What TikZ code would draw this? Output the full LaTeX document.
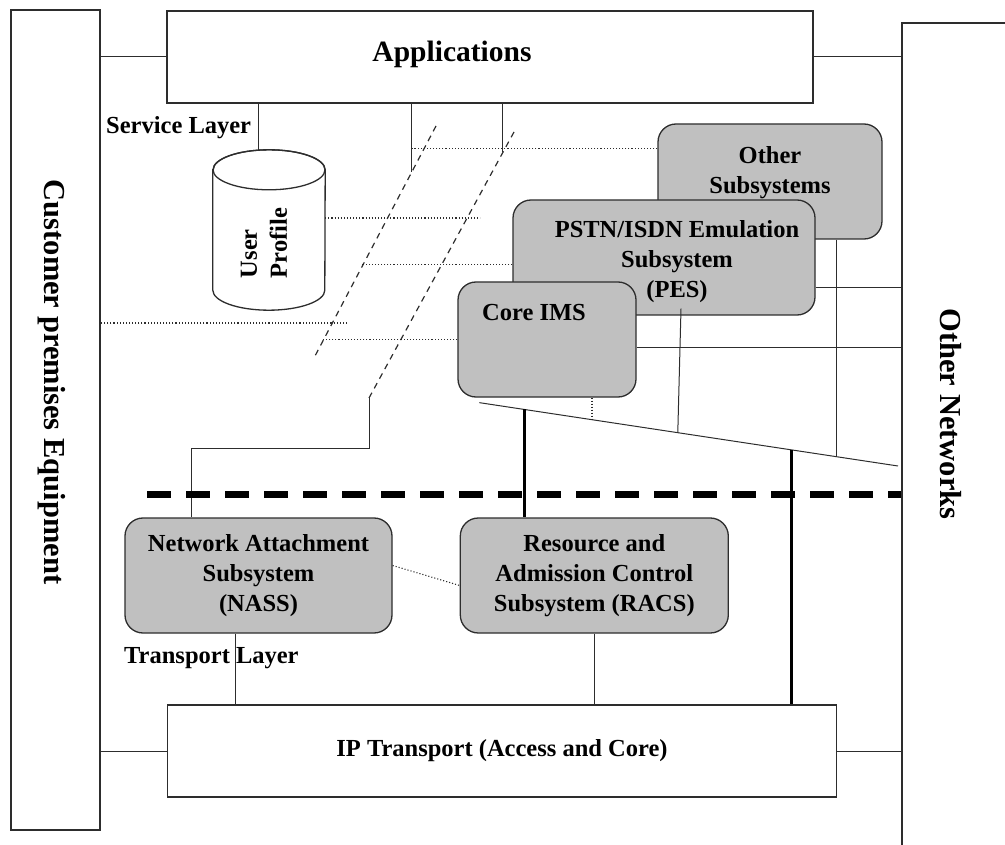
\documentclass[tikz,border=0pt]{standalone}
\usepackage{fontspec}
\setmainfont{Liberation Serif}
\usetikzlibrary{positioning, calc}
\definecolor{boxgray}{RGB}{192,192,192}
\definecolor{linegray}{RGB}{45,45,45}
\newcommand{\bodyfont}{\fontsize{24.5}{30}\selectfont\bfseries}
\newcommand{\sidefont}{\fontsize{30.5}{36}\selectfont\bfseries}
\newcommand{\appfont}{\fontsize{29.5}{36}\selectfont\bfseries}

\begin{document}
\begin{tikzpicture}[x=1pt, y=-1pt, font=\bodyfont,
  plainbox/.style={draw=linegray, line width=1.3pt, fill=white, inner sep=0pt, align=center},
  subbox/.style={draw=linegray, line width=1.3pt, fill=boxgray, rounded corners=18pt, inner sep=0pt, align=center},
  layerlabel/.style={anchor=west, inner sep=0pt},
  wire/.style={draw=linegray, line width=1pt},
  heavywire/.style={draw=black, line width=2.6pt},
  dotwire/.style={draw=linegray, line width=1.1pt, dash pattern=on 1.1pt off 2pt},
  dashwire/.style={draw=linegray, line width=1.2pt, dash pattern=on 6pt off 5pt},
  layerline/.style={draw=black, line width=7pt, dash pattern=on 24pt off 15pt}]

  \useasboundingbox (0,0) rectangle (1005,845);

  \node[plainbox, minimum width=89pt, minimum height=820pt] (cpe) at (55.5,420) {};
  \node[rotate=-90, font=\sidefont] (cpetxt) at (52,382) {Customer premises Equipment};
  \node[plainbox, minimum width=120pt, minimum height=840pt] (onet) at (962,443) {};
  \node[rotate=-90, font=\sidefont] (onettxt) at (951,414) {Other Networks};

  \node[plainbox, minimum width=646pt, minimum height=92pt,
    label={[font=\appfont, xshift=-38pt, yshift=3pt]center:Applications}] (apps) at (490,57) {};
  \node[plainbox, minimum width=669pt, minimum height=92pt] (ip) at (502,751) {IP Transport (Access and Core)};

  \node[layerlabel] (svclayer) at (106,128) {Service Layer};
  \node[layerlabel] (trlayer) at (124,658) {Transport Layer};

  \node[minimum width=112pt, minimum height=160pt, inner sep=0pt] (upro) at (269,230) {};
  \draw[wire, line width=1.3pt, fill=white] ([yshift=-20pt]upro.north west) -- ([yshift=20pt]upro.south west)
    arc[start angle=180, end angle=360, x radius=56pt, y radius=20pt]
    -- ([yshift=-20pt]upro.north east)
    arc[start angle=0, end angle=180, x radius=56pt, y radius=20pt] -- cycle;
  \draw[wire, line width=1.3pt] ([yshift=-20pt]upro.north) ellipse[x radius=56pt, y radius=20pt];
  \node[rotate=90, align=left] (uprotxt) at (264,243) {User\\Profile};

  \node[subbox, minimum width=224pt, minimum height=115pt,
    label={[align=center, yshift=9pt]center:Other\\Subsystems}] (oth) at (770,181.5) {};
  \node[subbox, minimum width=302pt, minimum height=115pt,
    label={[align=center, xshift=13pt, yshift=-4pt]center:PSTN/ISDN Emulation\\Subsystem\\(PES)}] (pes) at (664,257.5) {};
  \node[subbox, minimum width=178pt, minimum height=115pt,
    label={[xshift=-13pt, yshift=27pt]center:Core IMS}] (ims) at (547,339.5) {};

  \node[subbox, minimum width=267pt, minimum height=115pt] (nass) at (258.5,575.5) {Network Attachment\\Subsystem\\(NASS)};
  \node[subbox, minimum width=268pt, minimum height=115pt, right=67pt of nass] (racs) {Resource and\\Admission Control\\Subsystem (RACS)};

  \draw[wire] (apps.west) -- (apps.west -| cpe.east);
  \draw[wire] (apps.east) -- (apps.east -| onet.west);
  \draw[wire] (ip.west) -- (ip.west -| cpe.east);
  \draw[wire] (ip.east) -- (ip.east -| onet.west);

  \coordinate (uprotop) at ([xshift=-11pt]upro.north);
  \draw[wire] (uprotop |- apps.south) -- (uprotop);

  \coordinate (d1a) at (436,126);
  \coordinate (d1b) at (315,356);
  \coordinate (d2a) at (514,132);
  \coordinate (d2b) at (369,398);
  \draw[dashwire] (d1a) -- (d1b);
  \draw[dashwire] (d2a) -- (d2b);
  \coordinate (tap1) at ($(d1a)!0.2!(d1b)$);
  \coordinate (tap2) at ($(d2a)!0.076!(d2b)$);
  \draw[wire] (tap1 |- apps.south) -- (tap1);
  \draw[wire] (tap2 |- apps.south) -- (tap2);
  \coordinate (nasstop) at ([xshift=-67.5pt]nass.north);
  \draw[wire] (d2b) -- ++(0,50) -| (nasstop);

  \draw[dotwire] ([yshift=-25pt]oth.north west) -- ++(-245,0);
  \draw[dotwire] ([yshift=12pt]upro.east) -- ++(155,0);
  \draw[dotwire] ([yshift=-7pt]pes.west) -- ++(-151,0);
  \coordinate (cpedot) at (347,323);
  \draw[dotwire] (cpedot) -- (cpedot -| cpe.east);
  \draw[dotwire] (ims.west) -- ++(-136,0);

  \coordinate (s1) at ([xshift=22pt, yshift=-5pt]ims.south west);
  \coordinate (s2) at (898,466);
  \draw[wire] (s1) -- (s2);
  \coordinate (q0) at ($(s1)!0.108!(s2)$);
  \coordinate (q1) at ($(s1)!0.268!(s2)$);
  \coordinate (q2) at ($(s1)!0.474!(s2)$);
  \coordinate (q3) at ($(s1)!0.854!(s2)$);
  \coordinate (q4) at ($(s1)!0.746!(s2)$);
  \draw[heavywire] (q0) -- (q0 |- racs.north);
  \draw[dotwire, line width=2pt, dash pattern=on 1.5pt off 1.5pt] (q1 |- ims.south) -- (q1);
  \coordinate (pestap) at ([xshift=17pt, yshift=7pt]pes.south);
  \draw[wire] (pestap) -- (q2);
  \draw[wire] (q3 |- oth.south) -- (q3);
  \draw[heavywire] (q4) -- (q4 |- ip.north);
  \coordinate (pesright) at ([yshift=28pt]pes.south east);
  \draw[wire] (pesright) -- (pesright -| onet.west);
  \coordinate (imsright) at ([yshift=-8pt]ims.east);
  \draw[wire] (imsright) -- (imsright -| onet.west);

  \coordinate (sepl) at (147,494);
  \draw[layerline] (sepl) -- (sepl -| onet.west);

  \draw[dotwire] ([yshift=10pt]nass.east) -- ([yshift=-10pt]racs.west);
  \coordinate (nassbot) at ([xshift=-23.5pt]nass.south);
  \draw[wire] (nassbot) -- (nassbot |- ip.north);
  \draw[wire] (racs.south) -- (racs.south |- ip.north);
\end{tikzpicture}
\end{document}
